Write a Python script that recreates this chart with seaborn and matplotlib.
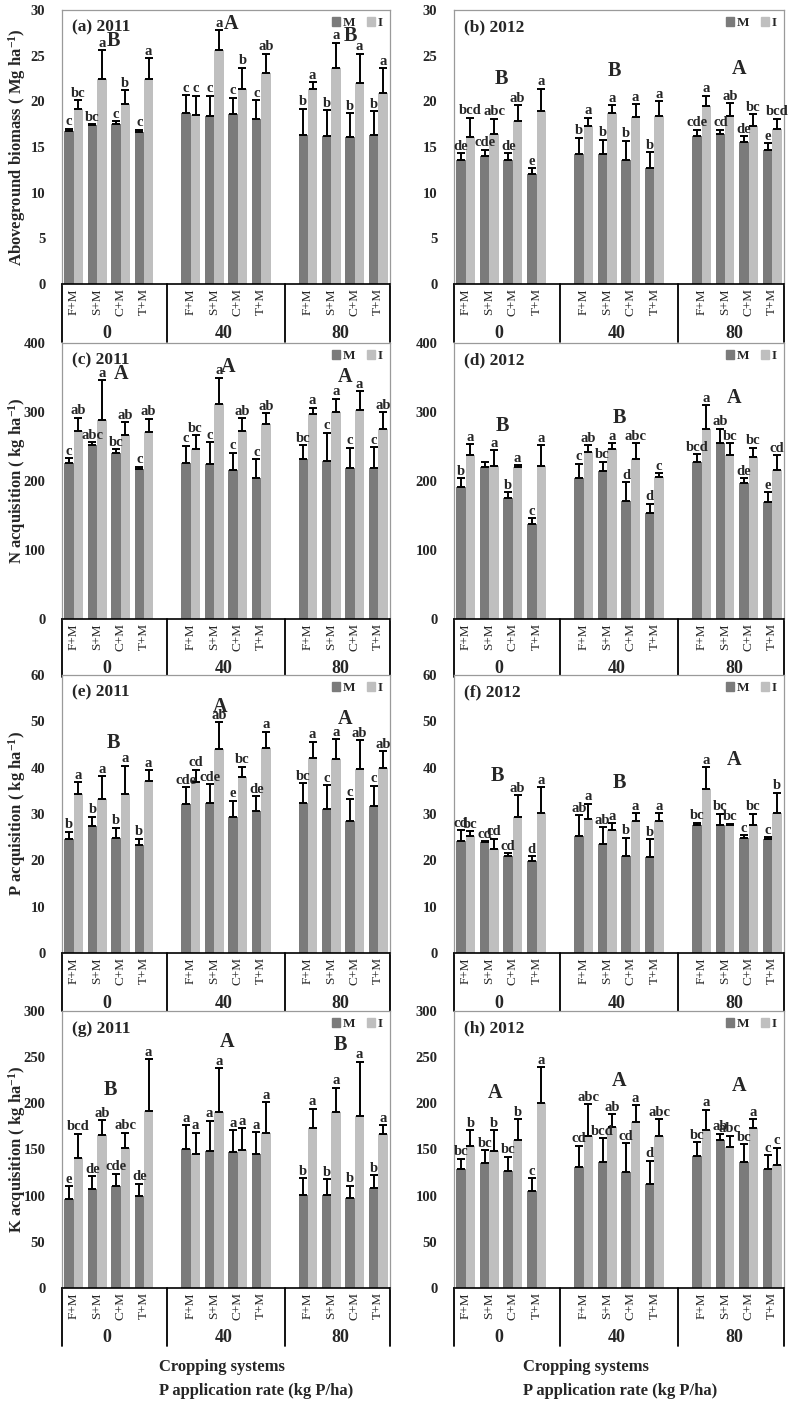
import matplotlib
matplotlib.use("Agg")
import numpy as np
import pandas as pd
import seaborn as sns
from matplotlib import pyplot as plt
from matplotlib.patches import Patch

systems = ["F+M", "S+M", "C+M", "T+M"]
rates = ["0", "40", "80"]

# (a) biomass 2011
a_m = [16.7, 17.4, 17.5, 16.6, 18.7, 18.4, 18.6, 18.1, 16.3, 16.2, 16.1, 16.3]
a_m_err = [0.3, 0.1, 0.3, 0.3, 2.0, 2.2, 1.8, 2.0, 2.9, 2.8, 2.6, 2.6]
a_i = [19.2, 22.4, 19.7, 22.5, 18.5, 25.6, 21.3, 23.1, 21.4, 23.6, 22.0, 20.9]
a_i_err = [0.9, 3.2, 1.5, 2.2, 2.1, 2.2, 2.4, 2.1, 0.7, 2.8, 3.2, 2.7]
a_m_let = ["c", "bc", "c", "c", "c", "c", "c", "c", "b", "b", "b", "b"]
a_i_let = ["bc", "a", "b", "a", "c", "a", "b", "ab", "a", "a", "a", "a"]
a_caps = ["B", "A", "B"]
a_caps_y = [26.6, 28.5, 27.2]
a_caps_x = [1.7, 6.7, 11.8]

# (b) biomass 2012
b_m = [13.6, 14.0, 13.6, 12.0, 14.2, 14.2, 13.6, 12.7, 16.2, 16.4, 15.5, 14.7]
b_m_err = [0.7, 0.7, 0.7, 0.7, 1.8, 1.6, 2.1, 1.7, 0.7, 0.5, 0.7, 0.7]
b_i = [16.1, 16.4, 17.8, 18.9, 17.3, 18.7, 18.3, 18.4, 19.5, 18.4, 17.3, 17.0]
b_i_err = [2.1, 1.7, 1.8, 2.5, 0.9, 0.9, 1.4, 1.6, 1.1, 1.4, 1.3, 1.1]
b_m_let = ["de", "cde", "de", "e", "b", "b", "b", "b", "cde", "cd", "de", "e"]
b_i_let = ["bcd", "abc", "ab", "a", "a", "a", "a", "a", "a", "ab", "bc", "bcd"]
b_caps = ["B", "B", "A"]
b_caps_y = [22.4, 23.3, 23.5]
b_caps_x = [1.5, 6.3, 11.6]

# (c) N 2011
c_m = [226, 252, 241, 217, 226, 225, 216, 204, 232, 229, 219, 219]
c_m_err = [7, 4, 5, 4, 25, 31, 25, 28, 20, 41, 29, 30]
c_i = [273, 289, 267, 271, 246, 312, 273, 283, 297, 300, 303, 275]
c_i_err = [19, 57, 18, 19, 20, 38, 18, 15, 9, 19, 27, 25]
c_m_let = ["c", "abc", "bc", "c", "c", "c", "c", "c", "bc", "c", "c", "c"]
c_i_let = ["ab", "a", "ab", "ab", "bc", "a", "ab", "ab", "a", "a", "a", "ab"]
c_caps = ["A", "A", "A"]
c_caps_y = [355, 365, 350]
c_caps_x = [2.0, 6.6, 11.6]

# (d) N 2012
d_m = [192, 220, 175, 137, 204, 215, 171, 153, 227, 255, 197, 170]
d_m_err = [12, 7, 9, 9, 21, 13, 27, 14, 12, 21, 7, 14]
d_i = [237, 222, 221, 222, 242, 247, 232, 206, 275, 237, 235, 216]
d_i_err = [16, 23, 2, 30, 10, 8, 23, 5, 35, 18, 13, 21]
d_m_let = ["b", "", "b", "c", "c", "bc", "d", "d", "bcd", "ab", "de", "e"]
d_i_let = ["a", "a", "a", "a", "ab", "a", "abc", "c", "a", "bc", "bc", "cd"]
d_caps = ["B", "B", "A"]
d_caps_y = [280, 291, 321]
d_caps_x = [1.55, 6.5, 11.4]

# (e) P 2011
e_m = [24.7, 27.4, 24.9, 23.4, 32.1, 32.3, 29.4, 30.6, 32.3, 31.1, 28.4, 31.7]
e_m_err = [1.5, 2.0, 2.1, 1.3, 3.7, 4.1, 3.5, 3.2, 4.3, 5.1, 4.8, 4.4]
e_i = [34.4, 33.3, 34.3, 37.2, 36.8, 44.0, 37.9, 44.3, 42.1, 41.8, 39.8, 40.0]
e_i_err = [2.5, 4.9, 6.1, 2.2, 2.8, 5.8, 2.3, 3.5, 3.5, 4.4, 6.1, 3.5]
e_m_let = ["b", "b", "b", "b", "cde", "cde", "e", "de", "bc", "c", "c", "c"]
e_i_let = ["a", "a", "a", "a", "cd", "ab", "bc", "a", "a", "a", "ab", "ab"]
e_caps = ["B", "A", "A"]
e_caps_y = [45.4, 53.0, 50.5]
e_caps_x = [1.7, 6.25, 11.6]

# (f) P 2012
f_m = [24.2, 23.9, 21.0, 19.8, 25.2, 23.6, 21.0, 20.7, 27.7, 27.7, 24.8, 24.6]
f_m_err = [2.3, 0.2, 0.6, 1.1, 4.6, 3.6, 3.9, 3.9, 0.4, 2.4, 0.6, 0.4]
f_i = [25.2, 22.5, 29.4, 30.3, 29.0, 26.6, 28.5, 28.5, 35.4, 27.7, 27.7, 30.2]
f_i_err = [1.1, 2.2, 4.6, 5.5, 3.2, 1.4, 1.7, 1.7, 4.7, 0.2, 2.4, 4.4]
f_m_let = ["cd", "cd", "cd", "d", "ab", "ab", "b", "b", "bc", "bc", "c", "c"]
f_i_let = ["bc", "cd", "ab", "a", "a", "a", "a", "a", "a", "bc", "bc", "b"]
f_caps = ["B", "B", "A"]
f_caps_y = [38.3, 36.6, 41.7]
f_caps_x = [1.35, 6.5, 11.4]

# (g) K 2011
g_m = [96, 107, 110, 100, 151, 148, 147, 145, 101, 101, 97, 108]
g_m_err = [14, 14, 14, 13, 25, 33, 24, 24, 18, 17, 14, 14]
g_i = [141, 166, 152, 192, 145, 191, 150, 168, 173, 191, 186, 167]
g_i_err = [26, 16, 16, 56, 23, 47, 23, 33, 21, 26, 59, 9]
g_m_let = ["e", "de", "cde", "de", "a", "a", "a", "a", "b", "b", "b", "b"]
g_i_let = ["bcd", "ab", "abc", "a", "a", "a", "a", "a", "a", "a", "a", "a"]
g_caps = ["B", "A", "B"]
g_caps_y = [214, 266, 263]
g_caps_x = [1.55, 6.55, 11.4]

# (h) K 2012
h_m = [129, 135, 127, 105, 131, 137, 126, 113, 143, 160, 137, 129]
h_m_err = [11, 14, 15, 14, 23, 25, 31, 25, 15, 7, 19, 15]
h_i = [154, 148, 160, 200, 165, 174, 180, 165, 171, 153, 173, 133]
h_i_err = [17, 23, 23, 39, 34, 14, 18, 18, 22, 12, 10, 19]
h_m_let = ["bc", "bc", "bc", "c", "cd", "bcd", "cd", "d", "bc", "ab", "bc", "c"]
h_i_let = ["b", "b", "b", "a", "abc", "ab", "a", "abc", "a", "abc", "a", "c"]
h_caps = ["A", "A", "A"]
h_caps_y = [211, 224, 219]
h_caps_x = [1.25, 6.5, 11.6]

sns.set_theme(style="white")
plt.rcParams["font.family"] = ["Liberation Serif", "DejaVu Serif"]
plt.rcParams["mathtext.default"] = "regular"

col_m = "#7b7b7b"
col_i = "#bfbfbf"

# category slots, one empty slot between rate groups
order = []
for gi, r in enumerate(rates):
    for s in systems:
        order.append(r + "|" + s)
    if gi < len(rates) - 1:
        order.append("gap%d" % gi)
bar_pos = [order.index(r + "|" + s) for r in rates for s in systems]


def draw_panel(ax, m, m_err, i, i_err, m_let, i_let, caps, caps_y, caps_x,
               title, ymax, step, ylabel=None):
    keys = [r + "|" + s for r in rates for s in systems]
    df = pd.DataFrame({
        "slot": keys * 2,
        "treat": ["M"] * 12 + ["I"] * 12,
        "value": list(m) + list(i),
    })
    sns.barplot(data=df, x="slot", y="value", hue="treat", order=order,
                hue_order=["M", "I"], palette={"M": col_m, "I": col_i},
                width=0.8, errorbar=None, legend=False, saturation=1,
                linewidth=0, ax=ax)

    lookup = {}
    for k in range(12):
        lookup[(bar_pos[k], "M")] = (m_err[k], m_let[k])
        lookup[(bar_pos[k], "I")] = (i_err[k], i_let[k])

    for bar in ax.patches:
        h = bar.get_height()
        if not np.isfinite(h) or h == 0:
            continue
        xc = bar.get_x() + bar.get_width() / 2
        slot = int(round(xc))
        tr = "M" if xc < slot else "I"
        if (slot, tr) not in lookup:
            continue
        err, let = lookup[(slot, tr)]
        ax.errorbar(xc, h, yerr=[[0], [err]], fmt="none", ecolor="black",
                    elinewidth=1.4, capsize=3, capthick=1.4, zorder=3)
        if let:
            ax.annotate(let, (xc, h + err), xytext=(0, 0.3),
                        textcoords="offset points", ha="center", va="bottom",
                        fontsize=10.5, fontweight="bold", zorder=4)

    for cx, cy, c in zip(caps_x, caps_y, caps):
        ax.text(cx, cy, c, ha="center", va="center", fontsize=14.5,
                fontweight="bold")

    ax.set_xlim(-0.5, len(order) - 0.5)
    ax.set_ylim(0, ymax)
    ticks = np.arange(0, ymax + step / 2, step)
    ax.set_yticks(ticks)
    ax.set_yticklabels([str(int(v)) for v in ticks], fontsize=10.5,
                       fontweight="bold")
    ax.tick_params(axis="y", length=0, pad=12)
    ax.set_xticks(bar_pos)
    ax.set_xticklabels(systems * 3, rotation=90, fontsize=9.5)
    ax.tick_params(axis="x", length=0, pad=3)
    ax.set_xlabel("")
    if ylabel:
        ax.set_ylabel(ylabel, fontsize=12, fontweight="bold")
        ax.yaxis.set_label_coords(-0.105, 0.5)
    else:
        ax.set_ylabel("")

    for side in ["top", "right", "left"]:
        ax.spines[side].set_color("#9a9a9a")
        ax.spines[side].set_linewidth(0.9)
    ax.spines["bottom"].set_color("black")
    ax.spines["bottom"].set_linewidth(1.2)

    # multi-level category axis below the plot
    trans = ax.get_xaxis_transform()
    for xv in [-0.5, 4, 9, len(order) - 0.5]:
        ax.plot([xv, xv], [0, -0.21], transform=trans, color="black",
                lw=1.3, clip_on=False)
    for gi, r in enumerate(rates):
        gc = np.mean(bar_pos[gi * 4:(gi + 1) * 4]) - 0.1
        ax.text(gc, -0.18, r, transform=trans, ha="center", va="center",
                fontsize=13, fontweight="bold")

    ax.text(0.03, 0.965, title, transform=ax.transAxes, ha="left", va="top",
            fontsize=12.5, fontweight="bold")
    handles = [Patch(color=col_m, label="M"), Patch(color=col_i, label="I")]
    ax.legend(handles=handles, loc="upper right", ncol=2, frameon=False,
              handlelength=0.6, handleheight=0.6, handletextpad=0.2,
              columnspacing=0.9, borderaxespad=0.15,
              prop={"size": 9.5, "weight": "bold"})


W, H = 790, 1406
fig = plt.figure(figsize=(W / 100, H / 100), dpi=100)
rows = [(10, 284), (343, 619), (675, 953), (1011, 1288)]
cols = [(62, 390), (454, 784)]


def make_ax(r, c):
    (t, b), (l, rr) = rows[r], cols[c]
    return fig.add_axes([l / W, 1 - b / H, (rr - l) / W, (b - t) / H])


ylab_unit = "( kg ha$^{-1}$)"
draw_panel(make_ax(0, 0), a_m, a_m_err, a_i, a_i_err, a_m_let, a_i_let,
           a_caps, a_caps_y, a_caps_x, "(a) 2011", 30, 5,
           "Aboveground biomass ( Mg ha$^{-1}$)")
draw_panel(make_ax(0, 1), b_m, b_m_err, b_i, b_i_err, b_m_let, b_i_let,
           b_caps, b_caps_y, b_caps_x, "(b) 2012", 30, 5)
draw_panel(make_ax(1, 0), c_m, c_m_err, c_i, c_i_err, c_m_let, c_i_let,
           c_caps, c_caps_y, c_caps_x, "(c) 2011", 400, 100,
           "N acquisition " + ylab_unit)
draw_panel(make_ax(1, 1), d_m, d_m_err, d_i, d_i_err, d_m_let, d_i_let,
           d_caps, d_caps_y, d_caps_x, "(d) 2012", 400, 100)
draw_panel(make_ax(2, 0), e_m, e_m_err, e_i, e_i_err, e_m_let, e_i_let,
           e_caps, e_caps_y, e_caps_x, "(e) 2011", 60, 10,
           "P acquisition " + ylab_unit)
draw_panel(make_ax(2, 1), f_m, f_m_err, f_i, f_i_err, f_m_let, f_i_let,
           f_caps, f_caps_y, f_caps_x, "(f) 2012", 60, 10)
draw_panel(make_ax(3, 0), g_m, g_m_err, g_i, g_i_err, g_m_let, g_i_let,
           g_caps, g_caps_y, g_caps_x, "(g) 2011", 300, 50,
           "K acquisition " + ylab_unit)
draw_panel(make_ax(3, 1), h_m, h_m_err, h_i, h_i_err, h_m_let, h_i_let,
           h_caps, h_caps_y, h_caps_x, "(h) 2012", 300, 50)

for x0 in [159, 523]:
    fig.text(x0 / W, 1 - 1367 / H, "Cropping systems", ha="left", va="center",
             fontsize=12, fontweight="bold")
    fig.text(x0 / W, 1 - 1391 / H, "P application rate (kg P/ha)", ha="left",
             va="center", fontsize=12, fontweight="bold")

fig.savefig("out.png", dpi=100)
